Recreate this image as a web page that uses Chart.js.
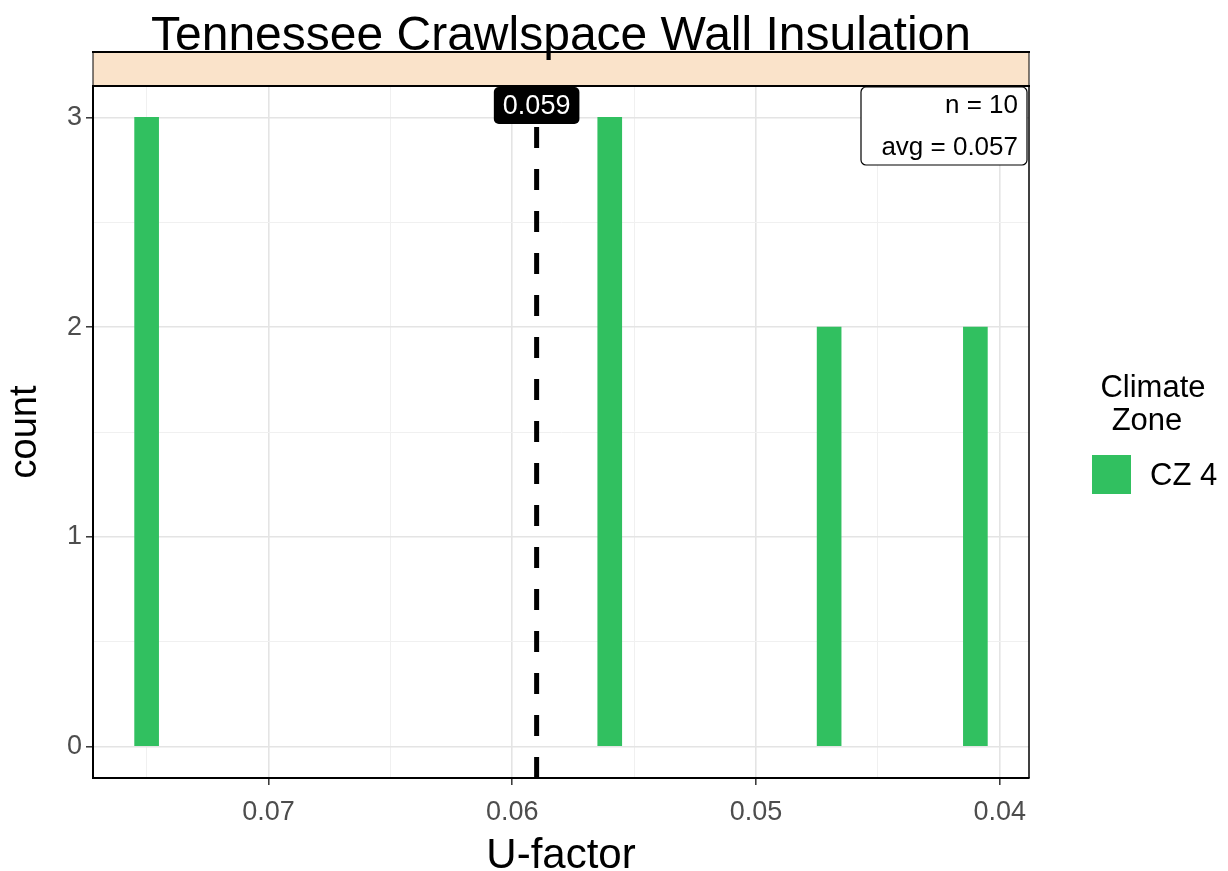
<!DOCTYPE html>
<html>
<head>
<meta charset="utf-8">
<script src="https://cdn.jsdelivr.net/npm/chart.js@4/dist/chart.umd.min.js"></script>
<style>
  html, body { margin: 0; padding: 0; background: #ffffff; }
  canvas { display: block; }
</style>
</head>
<body>
<canvas id="c" width="1228" height="871"></canvas>
<script>
// ---- data ----
const uFactors = [0.075, 0.056, 0.047, 0.041];
const counts = [3, 3, 2, 2];
const xTickValues = [0.07, 0.06, 0.05, 0.04];
const yTickValues = [0, 1, 2, 3];
const markerValue = [0.059];
const statsLines = ['n = 10', 'avg = 0.057'];
const chartTitle = 'Tennessee Crawlspace Wall Insulation';
const legendTitle = ['Climate', 'Zone'];
const seriesName = 'CZ 4';

const FONT = '"Liberation Sans", Arial, Helvetica, sans-serif';
const GREEN = '#31c060';
const X_MIN = 0.0388, X_MAX = 0.0772;
const Y_MIN = -0.15, Y_MAX = 3.15;

function withMinor(majors, lo, hi) {
  const sorted = majors.slice().sort((a, b) => a - b);
  const half = (sorted[1] - sorted[0]) / 2;
  const out = [];
  sorted.forEach(v => { out.push(v); });
  sorted.forEach(v => {
    [v - half, v + half].forEach(m => {
      const r = Math.round(m * 1e6) / 1e6;
      if (r > lo && r < hi && !out.some(o => Math.abs(o - r) < 1e-9)) out.push(r);
    });
  });
  return out.sort((a, b) => a - b);
}
const isMajor = (list, v) => list.some(m => Math.abs(m - v) < 1e-9);
const tickMajor = (list, c) => !!(c && c.tick && isMajor(list, c.tick.value));

const decorPlugin = {
  id: 'decor',
  afterDatasetsDraw(chart) {
    const { ctx, chartArea: a, scales } = chart;
    const x = scales.x.getPixelForValue(markerValue[0]);
    ctx.save();
    ctx.strokeStyle = '#000';
    ctx.lineWidth = 5;
    ctx.setLineDash([21, 21]);
    ctx.beginPath();
    ctx.moveTo(x, a.bottom);
    ctx.lineTo(x, a.top);
    ctx.stroke();
    ctx.setLineDash([]);
    // label box
    ctx.font = '27px ' + FONT;
    const txt = markerValue[0].toFixed(3);
    const tw = ctx.measureText(txt).width;
    const bw = tw + 18, bh = 37;
    const bx = x - bw / 2, by = a.top + 1;
    ctx.fillStyle = '#000';
    ctx.beginPath();
    ctx.roundRect(bx, by, bw, bh, 5);
    ctx.fill();
    ctx.fillStyle = '#fff';
    ctx.textAlign = 'center';
    ctx.textBaseline = 'middle';
    ctx.fillText(txt, x, by + bh / 2 + 1);
    ctx.restore();
  },
  afterDraw(chart) {
    const { ctx, chartArea: a } = chart;
    ctx.save();
    // panel right border
    ctx.strokeStyle = '#000';
    ctx.lineWidth = 1.5;
    ctx.beginPath();
    ctx.moveTo(a.right, a.top);
    ctx.lineTo(a.right, a.bottom);
    ctx.stroke();
    // strip
    const stripTop = 52;
    ctx.fillStyle = '#fae3ca';
    ctx.fillRect(a.left, stripTop, a.right - a.left, a.top - stripTop);
    ctx.lineWidth = 2;
    ctx.beginPath();
    ctx.moveTo(a.left - 1, stripTop);
    ctx.lineTo(a.right + 1, stripTop);
    ctx.moveTo(a.left - 1, a.top);
    ctx.lineTo(a.right + 1, a.top);
    ctx.stroke();
    ctx.lineWidth = 1;
    ctx.beginPath();
    ctx.moveTo(a.left, stripTop);
    ctx.lineTo(a.left, a.top);
    ctx.moveTo(a.right, stripTop);
    ctx.lineTo(a.right, a.top);
    ctx.stroke();
    // title
    ctx.fillStyle = '#000';
    ctx.font = '48px ' + FONT;
    ctx.textAlign = 'center';
    ctx.textBaseline = 'alphabetic';
    ctx.fillText(chartTitle, 561, 50);
    // stats box
    const sx = 861, sy = 87, sw = 166, sh = 78;
    ctx.fillStyle = '#fff';
    ctx.strokeStyle = '#000';
    ctx.lineWidth = 1.2;
    ctx.beginPath();
    ctx.roundRect(sx, sy, sw, sh, 5);
    ctx.fill();
    ctx.stroke();
    ctx.fillStyle = '#000';
    ctx.font = '26px ' + FONT;
    ctx.textAlign = 'right';
    ctx.textBaseline = 'middle';
    ctx.fillText(statsLines[0], 1018, 106);
    ctx.fillText(statsLines[1], 1018, 148);
    // legend
    ctx.font = '31px ' + FONT;
    ctx.textAlign = 'center';
    ctx.fillText(legendTitle[0], 1153, 388);
    ctx.fillText(legendTitle[1], 1147, 421);
    ctx.fillStyle = GREEN;
    ctx.fillRect(1092, 455, 39, 39);
    ctx.fillStyle = '#000';
    ctx.textAlign = 'left';
    ctx.fillText(seriesName, 1150, 476);
    ctx.restore();
  }
};

const xAll = withMinor(xTickValues, X_MIN, X_MAX);
const yAll = withMinor(yTickValues, Y_MIN, Y_MAX);

new Chart(document.getElementById('c'), {
  type: 'bar',
  data: {
    datasets: [{
      label: seriesName,
      data: uFactors.map((u, i) => ({ x: u, y: counts[i] })),
      backgroundColor: GREEN,
      borderWidth: 0,
      barThickness: 24
    }]
  },
  options: {
    responsive: false,
    devicePixelRatio: 1,
    animation: false,
    layout: { padding: { left: 0, top: 86, right: 199, bottom: 0 } },
    plugins: { legend: { display: false }, tooltip: { enabled: false } },
    scales: {
      x: {
        type: 'linear',
        reverse: true,
        offset: false,
        min: X_MIN,
        max: X_MAX,
        afterBuildTicks: s => { s.ticks = xAll.map(v => ({ value: v })); },
        afterFit: s => { s.height = 93; },
        ticks: {
          autoSkip: false,
          maxRotation: 0,
          padding: 11,
          color: '#4d4d4d',
          font: { family: FONT, size: 27 },
          callback: v => isMajor(xTickValues, v) ? v.toFixed(2) : ''
        },
        grid: {
          offset: false,
          color: c => tickMajor(xTickValues, c) ? '#e4e4e4' : '#f0f0f0',
          lineWidth: c => tickMajor(xTickValues, c) ? 1.6 : 1,
          tickColor: c => tickMajor(xTickValues, c) ? '#333' : 'rgba(0,0,0,0)',
          tickLength: 7,
          tickWidth: 1.5
        },
        border: { display: true, color: '#000', width: 2 },
        title: {
          display: true,
          text: 'U-factor',
          color: '#000',
          font: { family: FONT, size: 42, lineHeight: 0.7 },
          padding: 0
        }
      },
      y: {
        type: 'linear',
        min: Y_MIN,
        max: Y_MAX,
        afterBuildTicks: s => { s.ticks = yAll.map(v => ({ value: v })); },
        afterFit: s => { s.width = 93; },
        ticks: {
          autoSkip: false,
          padding: 4,
          color: '#4d4d4d',
          font: { family: FONT, size: 27 },
          callback: v => isMajor(yTickValues, v) ? String(v) : ''
        },
        grid: {
          color: c => tickMajor(yTickValues, c) ? '#e4e4e4' : '#f0f0f0',
          lineWidth: c => tickMajor(yTickValues, c) ? 1.6 : 1,
          tickColor: c => tickMajor(yTickValues, c) ? '#333' : 'rgba(0,0,0,0)',
          tickLength: 7,
          tickWidth: 1.5
        },
        border: { display: true, color: '#000', width: 2 },
        title: {
          display: true,
          text: 'count',
          color: '#000',
          font: { family: FONT, size: 38, lineHeight: 1.2 },
          padding: { top: 3, bottom: 0 }
        }
      }
    }
  },
  plugins: [decorPlugin]
});
</script>
</body>
</html>
